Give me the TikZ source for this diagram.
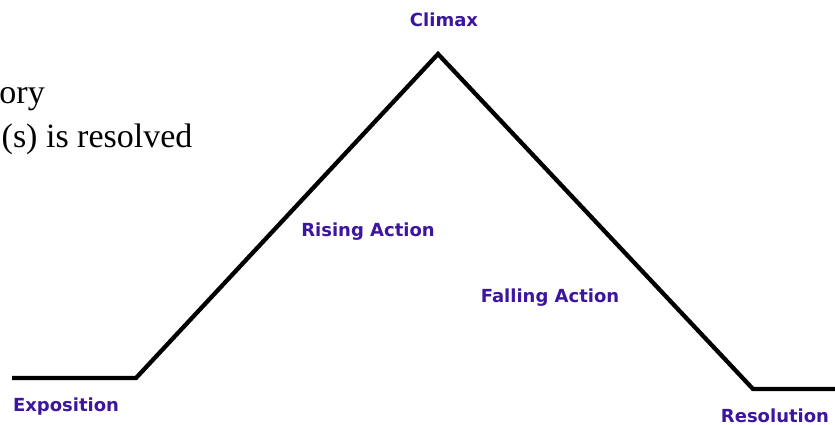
\documentclass[tikz,border=0pt]{standalone}
\usepackage{fontspec}
\newfontfamily\labelfont{DejaVu Sans}
\newfontfamily\bodyfont{Liberation Serif}
\definecolor{labelblue}{RGB}{60,22,158}
\tikzset{
  stagelabel/.style={inner sep=0pt, anchor=base, text=labelblue,
    font=\labelfont\bfseries\fontsize{18}{21}\selectfont},
  bodytext/.style={inner sep=0pt, anchor=base east, text=black,
    font=\bodyfont\fontsize{34}{40}\selectfont},
  arcline/.style={line width=4.3pt, black, line join=miter}
}
\begin{document}
\begin{tikzpicture}[x=1pt, y={(0pt,-1pt)}]
\useasboundingbox (0,0) rectangle (835,425);
\clip (0,0) rectangle (835,425);
\fill[white] (0,0) rectangle (835,425);

\node[bodytext] (t1) at (45,104) {ory};
\node[bodytext, anchor=base west] (t2) at (1.5,147) {(s) is resolved};

\coordinate (start) at (12,378);
\coordinate (expo) at (136,378);
\coordinate (peak) at (438,54);
\coordinate (reso) at (753,389);
\coordinate (finish) at (835,389);
\draw[arcline] (start) -- (expo) -- (peak) -- (reso) -- (finish);

\node[stagelabel] (climax) at (444,27) {Climax};
\node[stagelabel] (rising) at (368,236) {Rising Action};
\node[stagelabel] (falling) at (550,302) {Falling Action};
\node[stagelabel] (exposition) at (66,411) {Exposition};
\node[stagelabel] (resolution) at (775,422) {Resolution};
\end{tikzpicture}
\end{document}
